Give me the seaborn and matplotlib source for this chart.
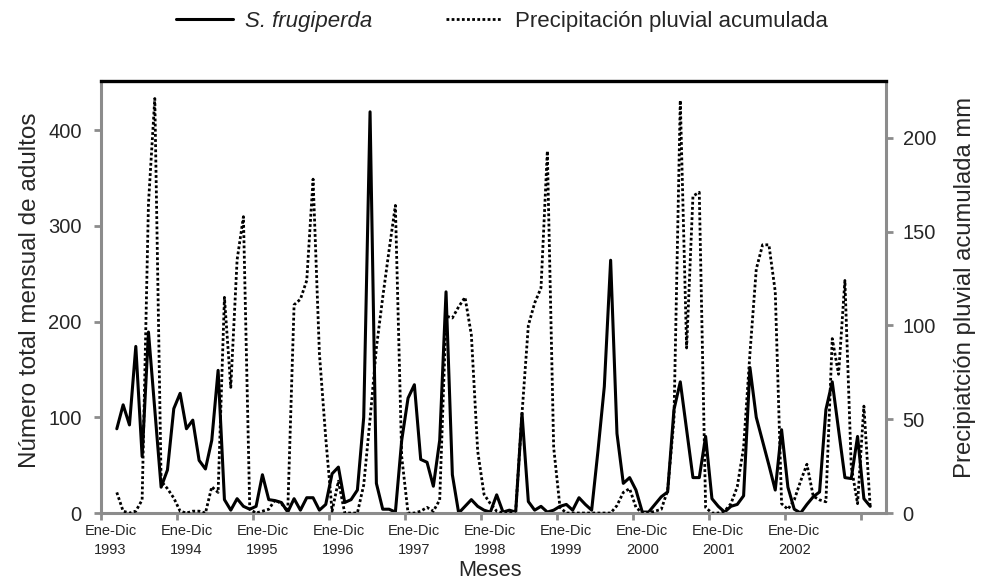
import matplotlib
matplotlib.use("Agg")
import matplotlib.pyplot as plt
import seaborn as sns
import pandas as pd

# ---- data -------------------------------------------------------------
years = ["1993", "1994", "1995", "1996", "1997", "1998", "1999", "2000", "2001", "2002"]
tick_text = "Ene-Dic"

adultos = [
    88, 113, 92, 174, 59, 189, 108, 27, 45, 109, 125, 88,
    97, 55, 46, 76, 149, 14, 3, 15, 7, 4, 7, 40,
    14, 13, 11, 1, 15, 3, 16, 16, 3, 9, 41, 48,
    11, 14, 24, 100, 419, 31, 4, 4, 1, 76, 120, 134,
    56, 53, 28, 76, 231, 40, 0, 7, 14, 7, 3, 1,
    19, 1, 3, 1, 104, 12, 3, 7, 1, 3, 7, 9,
    3, 16, 9, 3, 65, 132, 264, 83, 31, 37, 24, 1,
    1, 9, 17, 22, 108, 137, 87, 37, 37, 80, 15, 7,
    1, 7, 9, 18, 152, 100, 75, 50, 24, 87, 27, 4,
    0, 9, 17, 22, 108, 137, 87, 37, 36, 80, 15, 7,
]

precipitacion = [
    11, 1, 0, 1, 7, 165, 221, 17, 13, 8, 1, 0,
    1, 1, 0, 14, 11, 115, 67, 135, 158, 2, 0, 1,
    2, 7, 5, 1, 111, 114, 124, 178, 85, 40, 1, 17,
    0, 0, 0, 15, 50, 88, 115, 140, 164, 30, 0, 0,
    1, 3, 1, 7, 105, 104, 110, 115, 95, 33, 10, 5,
    1, 0, 0, 1, 53, 100, 112, 120, 193, 35, 3, 0,
    0, 0, 0, 0, 0, 0, 0, 4, 11, 13, 3, 0,
    0, 1, 2, 12, 50, 220, 88, 169, 171, 3, 0, 0,
    1, 5, 14, 35, 85, 130, 143, 143, 118, 5, 2, 7,
    17, 26, 9, 7, 6, 93, 74, 124, 25, 5, 57, 3,
]

mes = list(range(len(adultos)))
df = pd.DataFrame({"mes": mes, "adultos": adultos, "precipitacion": precipitacion})

# ---- style ------------------------------------------------------------
sns.set_theme(style="white")
plt.rcParams["font.family"] = ["Liberation Sans", "DejaVu Sans"]

GRAY = "#8c8c8c"

fig = plt.figure(figsize=(9.9, 5.83), dpi=100)
ax = fig.add_axes([0.102, 0.120, 0.793, 0.7416])
ax2 = ax.twinx()

sns.lineplot(data=df, x="mes", y="adultos", ax=ax, color="black",
             linewidth=2.2, legend=False)
sns.lineplot(data=df, x="mes", y="precipitacion", ax=ax2, color="black",
             linewidth=2.0, linestyle=(0, (1, 0.85)), legend=False)

# ---- axes -------------------------------------------------------------
ax.set_xlim(-2.5, 121.5)
ax.set_ylim(0, 451.5)
ax2.set_ylim(0, 230.5)

ax.set_yticks([0, 100, 200, 300, 400])
ax2.set_yticks([0, 50, 100, 150, 200])

major = [-2.5 + 12 * k for k in range(len(years) + 1)]
ax.set_xticks(major)
ax.set_xticklabels([""] * len(major))
ax.set_xticks([-1 + 12 * k for k in range(len(years))], minor=True)
ax.set_xticklabels([f"{tick_text}\n{y}" for y in years], minor=True)

ax.tick_params(axis="x", which="major", direction="out", length=5, width=2,
               color=GRAY, bottom=True)
ax.tick_params(axis="x", which="minor", length=0, pad=8, labelsize=10.5,
               bottom=True)
ax.tick_params(axis="y", direction="out", length=5, width=2, color=GRAY,
               labelsize=14.5, pad=9, left=True)
ax2.tick_params(axis="y", direction="out", length=5, width=2, color=GRAY,
                labelsize=14.5, pad=7, right=True)
for lab in ax.get_xticklabels(minor=True):
    lab.set_linespacing(1.45)

for name in ["left", "bottom"]:
    ax.spines[name].set_color(GRAY)
    ax.spines[name].set_linewidth(2.2)
ax.spines["right"].set_visible(False)
ax.spines["top"].set_visible(False)
for name in ["left", "bottom"]:
    ax2.spines[name].set_visible(False)
ax2.spines["right"].set_color(GRAY)
ax2.spines["right"].set_linewidth(2.2)
ax2.spines["top"].set_color("black")
ax2.spines["top"].set_linewidth(2.4)

ax.set_xlabel("Meses", fontsize=15.7)
ax.xaxis.set_label_coords(0.4955, -0.108)
ax.set_ylabel("Número total mensual de adultos", fontsize=17.5)
ax.yaxis.label.set_va("center")
ax.yaxis.set_label_coords(-0.09, 0.516)
ax2.set_ylabel("Precipiatción pluvial acumulada mm", fontsize=17.2,
               rotation=90)
ax2.yaxis.label.set_va("center")
ax2.yaxis.set_label_coords(1.1, 0.522)

# ---- legend -----------------------------------------------------------
handles = [ax.lines[0], ax2.lines[0]]
leg = fig.legend(handles, ["S. frugiperda", "Precipitación pluvial acumulada"],
                 loc="center", bbox_to_anchor=(0.507, 0.963), ncol=2,
                 frameon=False, fontsize=16, handlelength=2.55,
                 handletextpad=0.55, columnspacing=3.3)
leg.get_texts()[0].set_fontstyle("italic")

fig.savefig("out.png", dpi=100)
